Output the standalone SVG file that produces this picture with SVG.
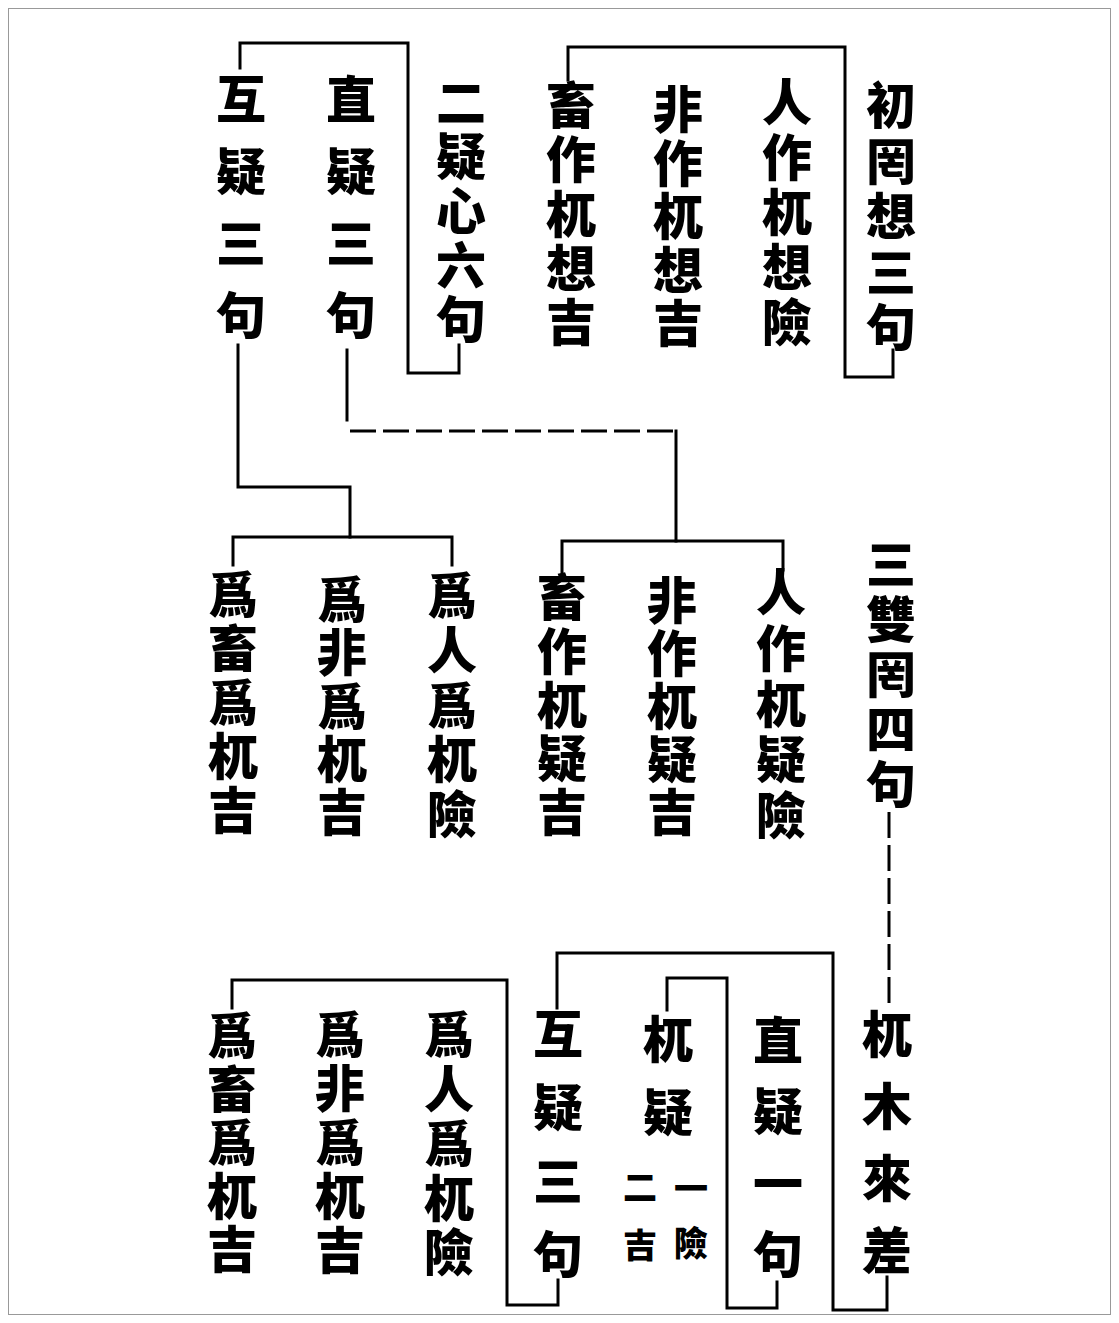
<svg xmlns="http://www.w3.org/2000/svg" width="1119" height="1323" viewBox="0 0 1119 1323">
<style>
.t{font-family:"Noto Sans CJK TC","Noto Sans CJK SC","Noto Sans CJK JP",sans-serif;font-size:50px;font-weight:900;fill:#000;writing-mode:vertical-rl}
.s{font-family:"Noto Sans CJK TC","Noto Sans CJK SC","Noto Sans CJK JP",sans-serif;font-size:34px;font-weight:900;fill:#000;writing-mode:vertical-rl}
.c{fill:none;stroke:#000;stroke-width:3;stroke-linecap:square}
.d{fill:none;stroke:#000;stroke-width:3;stroke-dasharray:26 7}
</style>
<rect x="0" y="0" width="1119" height="1323" fill="#fff"/>
<rect x="8.5" y="8.5" width="1102" height="1306" fill="none" stroke="#999" stroke-width="1"/>
<g id="connectors">
<path class="c" d="M568 80 V47 H845 V377 H893 V350"/>
<path class="c" d="M240 68 V43 H408 V373 H459 V345"/>
<path class="c" d="M238 345 V487 H350 V537"/>
<path class="c" d="M233 565 V537 H452 V565"/>
<path class="c" d="M347 350 V420"/>
<path class="d" d="M350 431 H676"/>
<path class="c" d="M676 431 V541"/>
<path class="c" d="M562 575 V541 H783 V570"/>
<path class="d" d="M889 812 V1008"/>
<path class="c" d="M887 1277 V1310 H833 V953 H557 V1008"/>
<path class="c" d="M777 1282 V1308 H727 V978 H667 V1010"/>
<path class="c" d="M558 1280 V1305 H507 V980 H232 V1008"/>
</g>
<g id="n1"><text class="t" x="891" y="80">初</text><text class="t" x="891" y="135.5">罔</text><text class="t" x="891" y="191">想</text><text class="t" x="891" y="246.5">三</text><text class="t" x="891" y="302">句</text></g>
<g id="n1a"><text class="t" x="787" y="77">人</text><text class="t" x="787" y="132">作</text><text class="t" x="787" y="187">杌</text><text class="t" x="787" y="242">想</text><text class="t" x="787" y="297">險</text></g>
<g id="n1b"><text class="t" x="678" y="84">非</text><text class="t" x="678" y="137.5">作</text><text class="t" x="678" y="191">杌</text><text class="t" x="678" y="244.5">想</text><text class="t" x="678" y="298">吉</text></g>
<g id="n1c"><text class="t" x="571" y="80">畜</text><text class="t" x="571" y="134">作</text><text class="t" x="571" y="188.5">杌</text><text class="t" x="571" y="243">想</text><text class="t" x="571" y="297">吉</text></g>
<g id="n2"><text class="t" x="461" y="77">二</text><text class="t" x="461" y="131">疑</text><text class="t" x="461" y="185.5">心</text><text class="t" x="461" y="240">六</text><text class="t" x="461" y="294">句</text></g>
<g id="n2a"><text class="t" x="351" y="74">直</text><text class="t" x="351" y="146">疑</text><text class="t" x="351" y="218">三</text><text class="t" x="351" y="290">句</text></g>
<g id="n2b"><text class="t" x="241" y="74">互</text><text class="t" x="241" y="146">疑</text><text class="t" x="241" y="218">三</text><text class="t" x="241" y="290">句</text></g>
<g id="n2a1"><text class="t" x="781" y="567">人</text><text class="t" x="781" y="623">作</text><text class="t" x="781" y="678.5">杌</text><text class="t" x="781" y="734">疑</text><text class="t" x="781" y="790">險</text></g>
<g id="n2a2"><text class="t" x="672" y="575">非</text><text class="t" x="672" y="628">作</text><text class="t" x="672" y="681">杌</text><text class="t" x="672" y="734">疑</text><text class="t" x="672" y="787">吉</text></g>
<g id="n2a3"><text class="t" x="562" y="572">畜</text><text class="t" x="562" y="626">作</text><text class="t" x="562" y="679.5">杌</text><text class="t" x="562" y="733">疑</text><text class="t" x="562" y="787">吉</text></g>
<g id="n2b1"><text class="t" x="452" y="570">爲</text><text class="t" x="452" y="625">人</text><text class="t" x="452" y="679.5">爲</text><text class="t" x="452" y="734">杌</text><text class="t" x="452" y="789">險</text></g>
<g id="n2b2"><text class="t" x="342" y="574">爲</text><text class="t" x="342" y="627">非</text><text class="t" x="342" y="680.5">爲</text><text class="t" x="342" y="734">杌</text><text class="t" x="342" y="787">吉</text></g>
<g id="n2b3"><text class="t" x="233" y="569">爲</text><text class="t" x="233" y="623">畜</text><text class="t" x="233" y="677">爲</text><text class="t" x="233" y="731">杌</text><text class="t" x="233" y="785">吉</text></g>
<g id="n3"><text class="t" x="891" y="539">三</text><text class="t" x="891" y="594">雙</text><text class="t" x="891" y="649">罔</text><text class="t" x="891" y="704">四</text><text class="t" x="891" y="759">句</text></g>
<g id="n3a"><text class="t" x="887" y="1009">杌</text><text class="t" x="887" y="1081">木</text><text class="t" x="887" y="1153">來</text><text class="t" x="887" y="1225">差</text></g>
<g id="n3b"><text class="t" x="778" y="1015">直</text><text class="t" x="778" y="1086">疑</text><text class="t" x="778" y="1158">一</text><text class="t" x="778" y="1229">句</text></g>
<g id="n3c"><text class="t" x="668" y="1014">杌</text><text class="t" x="668" y="1087">疑</text><text class="s" x="691" y="1171">一</text><text class="s" x="691" y="1226">險</text><text class="s" x="640" y="1170">二</text><text class="s" x="640" y="1228">吉</text></g>
<g id="n3d"><text class="t" x="558" y="1009">互</text><text class="t" x="558" y="1082">疑</text><text class="t" x="558" y="1156">三</text><text class="t" x="558" y="1229">句</text></g>
<g id="n3d1"><text class="t" x="449" y="1009">爲</text><text class="t" x="449" y="1063.5">人</text><text class="t" x="449" y="1118">爲</text><text class="t" x="449" y="1172.5">杌</text><text class="t" x="449" y="1227">險</text></g>
<g id="n3d2"><text class="t" x="340" y="1009">爲</text><text class="t" x="340" y="1063">非</text><text class="t" x="340" y="1117">爲</text><text class="t" x="340" y="1171">杌</text><text class="t" x="340" y="1225">吉</text></g>
<g id="n3d3"><text class="t" x="232" y="1010">爲</text><text class="t" x="232" y="1063.5">畜</text><text class="t" x="232" y="1117">爲</text><text class="t" x="232" y="1170.5">杌</text><text class="t" x="232" y="1224">吉</text></g>
</svg>
